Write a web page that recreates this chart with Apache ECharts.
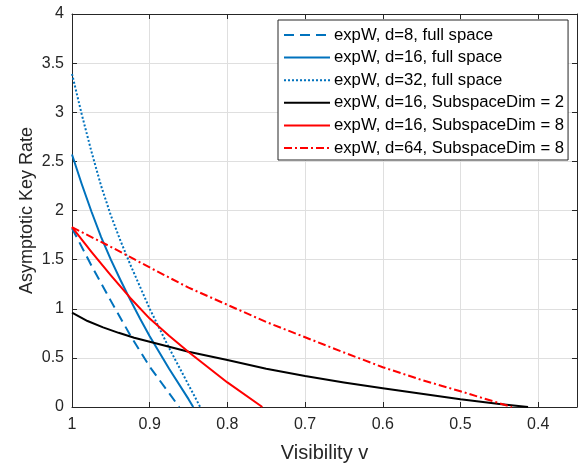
<!DOCTYPE html>
<html>
<head>
<meta charset="utf-8">
<script src="https://cdn.jsdelivr.net/npm/echarts@6/dist/echarts.min.js"></script>
<style>
html,body{margin:0;padding:0;background:#fff;}
#chart{width:578px;height:464px;}
</style>
</head>
<body>
<div id="chart"></div>
<script>
// Series names (legend order)
const seriesNames = [
  'expW, d=8, full space',
  'expW, d=16, full space',
  'expW, d=32, full space',
  'expW, d=16, SubspaceDim = 2',
  'expW, d=16, SubspaceDim = 8',
  'expW, d=64, SubspaceDim = 8'
];

// Visibility (x) and asymptotic key rate (y) for each curve
const visD8Full = [1, 0.975, 0.95, 0.925, 0.9, 0.875, 0.862];
const rateD8Full = [1.82, 1.44, 1.08, 0.73, 0.41, 0.14, 0];

const visD16Full = [1, 0.9875, 0.975, 0.9625, 0.95, 0.9375, 0.925, 0.9125, 0.9, 0.875, 0.85, 0.844];
const rateD16Full = [2.57, 2.27, 1.99, 1.73, 1.5, 1.29, 1.09, 0.9, 0.72, 0.39, 0.08, 0];

const visD32Full = [1, 0.9875, 0.975, 0.9625, 0.95, 0.9375, 0.925, 0.9, 0.875, 0.85, 0.835];
const rateD32Full = [3.39, 2.98, 2.6, 2.25, 1.95, 1.69, 1.45, 1.0, 0.6, 0.225, 0];

const visD16Sub2 = [1, 0.98, 0.96, 0.94, 0.92, 0.9, 0.85, 0.8, 0.75, 0.7, 0.65, 0.6, 0.55, 0.5, 0.45, 0.413];
const rateD16Sub2 = [0.96, 0.875, 0.81, 0.755, 0.705, 0.664, 0.562, 0.478, 0.39, 0.315, 0.25, 0.19, 0.135, 0.078, 0.03, 0];

const visD16Sub8 = [1, 0.975, 0.95, 0.925, 0.9, 0.875, 0.85, 0.8, 0.755];
const rateD16Sub8 = [1.83, 1.58, 1.34, 1.11, 0.9, 0.725, 0.56, 0.25, 0];

const visD64Sub8 = [1, 0.95, 0.9, 0.85, 0.8, 0.75, 0.7, 0.65, 0.6, 0.55, 0.5, 0.434];
const rateD64Sub8 = [1.83, 1.63, 1.42, 1.215, 1.04, 0.865, 0.71, 0.555, 0.405, 0.275, 0.16, 0];

// Axis ranges / ticks
const xMin = 0.35, xMax = 1;
const yMin = 0, yMax = 4, yStep = 0.5;

const zip = (xs, ys) => xs.map((x, i) => [x, ys[i]]);
const curves = [
  zip(visD8Full, rateD8Full),
  zip(visD16Full, rateD16Full),
  zip(visD32Full, rateD32Full),
  zip(visD16Sub2, rateD16Sub2),
  zip(visD16Sub8, rateD16Sub8),
  zip(visD64Sub8, rateD64Sub8)
];

const BLUE = '#0072BD', RED = '#FF0000', BLACK = '#000000';
const styles = [
  {color: BLUE, type: [10, 6]},
  {color: BLUE, type: 'solid'},
  {color: BLUE, type: [2, 2]},
  {color: BLACK, type: 'solid'},
  {color: RED, type: 'solid'},
  {color: RED, type: [8, 3, 2, 3]}
];

const FONT = 'Liberation Sans, Arial, Helvetica, sans-serif';
const AX = '#262626';

const chart = echarts.init(document.getElementById('chart'), null, {renderer: 'canvas'});

const xFmt = v => {
  const r = Math.round(v * 10) / 10;
  if (Math.abs(r - v) > 1e-6) return '';
  return String(r);
};

const option = {
  animation: false,
  backgroundColor: '#ffffff',
  grid: {left: 72, right: 1, top: 14, bottom: 57, containLabel: false, outerBoundsMode: 'none'},
  legend: {
    orient: 'vertical',
    left: 278,
    top: 20,
    itemWidth: 46,
    itemHeight: 14,
    itemGap: 5.6,
    padding: [6.5, 4, 3.5, 5],
    backgroundColor: '#ffffff',
    borderColor: AX,
    borderWidth: 1,
    itemStyle: {opacity: 0},
    textStyle: {fontFamily: FONT, fontSize: 16.7, color: '#000', padding: [0, 0, 0, -1]},
    data: seriesNames
  },
  xAxis: [{
    type: 'value',
    inverse: true,
    min: xMin,
    max: xMax,
    splitNumber: 7,
    name: 'Visibility v',
    nameLocation: 'middle',
    nameGap: 36,
    nameMoveOverlap: false,
    nameTextStyle: {fontFamily: FONT, fontSize: 20, color: AX},
    axisLine: {show: true, onZero: false, lineStyle: {color: AX, width: 1}},
    axisTick: {show: true, inside: true, length: 5, lineStyle: {color: AX}},
    axisLabel: {fontFamily: FONT, fontSize: 16, color: AX, margin: 10, formatter: xFmt},
    splitLine: {show: true, lineStyle: {color: '#dfdfdf', width: 1}}
  }, {
    type: 'value',
    position: 'top',
    inverse: true,
    min: xMin,
    max: xMax,
    splitNumber: 7,
    axisLine: {show: true, onZero: false, lineStyle: {color: AX, width: 1}},
    axisTick: {show: true, inside: true, length: 5, lineStyle: {color: AX}},
    axisLabel: {show: false},
    splitLine: {show: false}
  }],
  yAxis: [{
    type: 'value',
    min: yMin,
    max: yMax,
    interval: yStep,
    name: 'Asymptotic Key Rate',
    nameLocation: 'middle',
    nameGap: 36,
    nameMoveOverlap: false,
    nameTextStyle: {fontFamily: FONT, fontSize: 18, color: AX},
    axisLine: {show: true, onZero: false, lineStyle: {color: AX, width: 1}},
    axisTick: {show: true, inside: true, length: 5, lineStyle: {color: AX}},
    axisLabel: {fontFamily: FONT, fontSize: 16, color: AX, margin: 8},
    splitLine: {show: true, lineStyle: {color: '#dfdfdf', width: 1}}
  }, {
    type: 'value',
    position: 'right',
    min: yMin,
    max: yMax,
    interval: yStep,
    axisLine: {show: true, onZero: false, lineStyle: {color: AX, width: 1}},
    axisTick: {show: true, inside: true, length: 5, lineStyle: {color: AX}},
    axisLabel: {show: false},
    splitLine: {show: false}
  }],
  series: curves.map((d, i) => ({
    name: seriesNames[i],
    type: 'line',
    xAxisIndex: 0,
    yAxisIndex: 0,
    data: d,
    showSymbol: false,
    symbol: 'none',
    smooth: false,
    clip: true,
    lineStyle: {color: styles[i].color, width: 2, type: styles[i].type, cap: 'butt', join: 'round'},
    itemStyle: {color: styles[i].color},
    z: 2 + i
  }))
};

chart.setOption(option);
</script>
</body>
</html>
